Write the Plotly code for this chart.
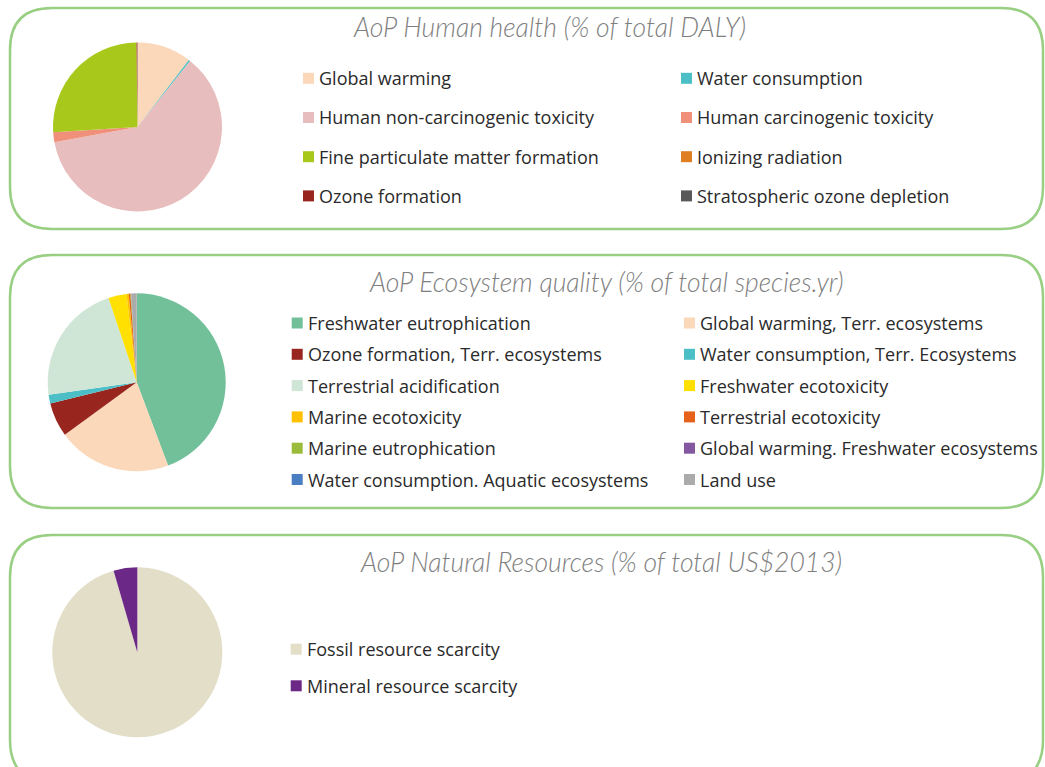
import plotly.graph_objects as go

# ---------------- data ----------------
hh_labels = ["Global warming", "Water consumption", "Human non-carcinogenic toxicity",
             "Human carcinogenic toxicity", "Fine particulate matter formation",
             "Ionizing radiation", "Ozone formation", "Stratospheric ozone depletion"]
hh_values = [10.4, 0.3, 61.4, 1.9, 25.8, 0.02, 0.15, 0.03]
hh_colors = ["#FBD8BA", "#4BBFC5", "#E7BEBD", "#F1907A", "#A9C81C", "#E07F22", "#98261F", "#595959"]

eq_labels = ["Freshwater eutrophication", "Global warming, Terr. ecosystems",
             "Ozone formation, Terr. ecosystems", "Water consumption, Terr. Ecosystems",
             "Terrestrial acidification", "Freshwater ecotoxicity", "Marine ecotoxicity",
             "Terrestrial ecotoxicity", "Marine eutrophication",
             "Global warming. Freshwater ecosystems", "Water consumption. Aquatic ecosystems",
             "Land use"]
eq_values = [44.27, 20.7, 6.2, 1.6, 22.1, 3.3, 0.4, 0.3, 0.1, 0.02, 0.01, 1.0]
eq_colors = ["#71C09A", "#FBD8BA", "#98261F", "#4BBFC5", "#CFE6D6", "#FFE000", "#FFC000",
             "#E6621A", "#9BBB3A", "#8458A0", "#4A7EC2", "#ABABAB"]

nr_labels = ["Fossil resource scarcity", "Mineral resource scarcity"]
nr_values = [95.5, 4.5]
nr_colors = ["#E3DEC8", "#6C2887"]

titles = ["AoP Human health (% of total DALY)",
          "AoP Ecosystem quality (% of total species.yr)",
          "AoP Natural Resources (% of total US$2013)"]

# ---------------- layout helpers (pixels -> paper) ----------------
W, H = 1045, 767
def px(x):
    return x / W
def py(y):
    return 1 - y / H

BOX_COLOR = "#98CF83"
TITLE_COLOR = "#7F7F7F"
TEXT_COLOR = "#2A2A2A"
LEG_FONT = dict(family="Open Sans, Noto Sans, sans-serif", size=18, color=TEXT_COLOR)
TITLE_FONT = dict(family="Lato, Open Sans, sans-serif", size=26.5, color=TITLE_COLOR,
                  style="italic", weight=300)

panels = [
    dict(labels=hh_labels, values=hh_values, colors=hh_colors,
         cx=137.5, cy=127.0, r=84.5,
         box=(10, 8, 1043, 229),
         title_xy=(549, 27),
         leg_cols=[303.0, 681.0], leg_y0=78.3, leg_dy=39.2, ncols=2),
    dict(labels=eq_labels, values=eq_values, colors=eq_colors,
         cx=136.7, cy=382.3, r=89.0,
         box=(10, 255, 1043, 508),
         title_xy=(606, 282),
         leg_cols=[291.7, 684.0], leg_y0=323.0, leg_dy=31.3, ncols=2),
    dict(labels=nr_labels, values=nr_values, colors=nr_colors,
         cx=137.3, cy=652.3, r=85.0,
         box=(10, 535, 1043, 782),
         title_xy=(601, 562),
         leg_cols=[290.7], leg_y0=649.2, leg_dy=36.6, ncols=1),
]

fig = go.Figure()
shapes = []
annotations = []

def rounded_box(x0, y0, x1, y1, rad):
    pts = [
        ("M", [(x0 + rad, y0)]),
        ("L", [(x1 - rad, y0)]),
        ("Q", [(x1, y0), (x1, y0 + rad)]),
        ("L", [(x1, y1 - rad)]),
        ("Q", [(x1, y1), (x1 - rad, y1)]),
        ("L", [(x0 + rad, y1)]),
        ("Q", [(x0, y1), (x0, y1 - rad)]),
        ("L", [(x0, y0 + rad)]),
        ("Q", [(x0, y0), (x0 + rad, y0)]),
    ]
    s = ""
    for cmd, ps in pts:
        s += cmd + " " + " ".join(f"{px(a):.5f},{py(b):.5f}" for a, b in ps) + " "
    return s + "Z"

MS = 11  # legend square size
for i, p in enumerate(panels):
    fig.add_trace(go.Pie(
        labels=p["labels"], values=p["values"],
        marker=dict(colors=p["colors"], line=dict(width=0)),
        sort=False, direction="clockwise", rotation=0,
        textinfo="none", hoverinfo="label+percent", showlegend=False,
        domain=dict(x=[px(p["cx"] - p["r"]), px(p["cx"] + p["r"])],
                    y=[py(p["cy"] + p["r"]), py(p["cy"] - p["r"])]),
    ))
    bx0, by0, bx1, by1 = p["box"]
    shapes.append(dict(type="path", xref="paper", yref="paper",
                       path=rounded_box(bx0, by0, bx1, by1, 42),
                       line=dict(color=BOX_COLOR, width=2.5), fillcolor="rgba(0,0,0,0)",
                       layer="below"))
    tx, ty = p["title_xy"]
    annotations.append(dict(text=titles[i], x=px(tx), y=py(ty), xref="paper", yref="paper",
                            xanchor="center", yanchor="middle", showarrow=False,
                            font=TITLE_FONT))
    for k, (lab, col) in enumerate(zip(p["labels"], p["colors"])):
        row, c = divmod(k, p["ncols"])
        mx = p["leg_cols"][c]
        my = p["leg_y0"] + row * p["leg_dy"]
        shapes.append(dict(type="rect", xref="paper", yref="paper",
                           x0=px(mx), x1=px(mx + MS), y0=py(my + MS / 2), y1=py(my - MS / 2),
                           fillcolor=col, line=dict(width=0)))
        annotations.append(dict(text=lab, x=px(mx + MS + 3), y=py(my), xref="paper", yref="paper",
                                xanchor="left", yanchor="middle", showarrow=False,
                                font=LEG_FONT))

fig.update_layout(
    width=W, height=H,
    margin=dict(l=0, r=0, t=0, b=0),
    paper_bgcolor="white", plot_bgcolor="white",
    shapes=shapes, annotations=annotations,
    showlegend=False,
)

fig.write_html("out.html", config={"displayModeBar": False},
               post_script="document.body.style.margin='0';")
